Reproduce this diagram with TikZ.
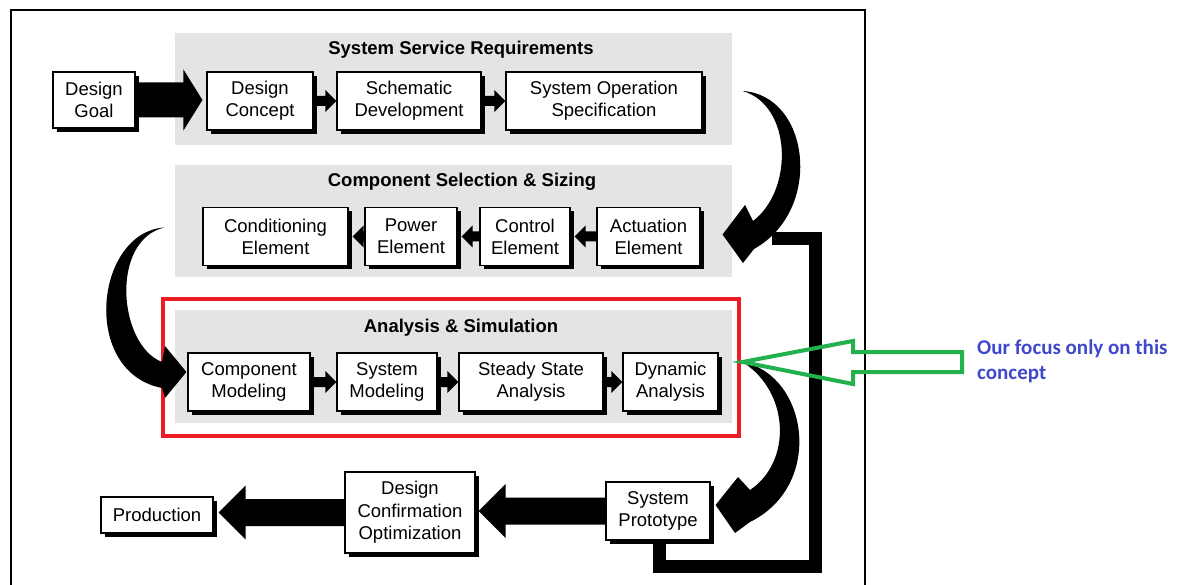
\documentclass[tikz,border=0pt]{standalone}
\usepackage{fontspec}
\setmainfont{Liberation Sans}
\newfontfamily\calibri{Carlito}
\usetikzlibrary{calc,shadows}
\definecolor{panelgray}{HTML}{E4E4E4}
\definecolor{focusred}{HTML}{ED1C24}
\definecolor{focusgreen}{HTML}{22B14C}
\definecolor{focusblue}{HTML}{3F48CC}
% block arrow: #1 start, #2 tip, #3 shaft half height, #4 head half height, #5 signed head length
\newcommand\blockarr[5]{%
  \fill let \p1=#1, \p2=#2 in
    (\x1,{\y1+#3}) -- ({\x2-(#5)},{\y1+#3}) -- ({\x2-(#5)},{\y1+#4}) -- (\x2,\y1)
    -- ({\x2-(#5)},{\y1-#4}) -- ({\x2-(#5)},{\y1-#3}) -- (\x1,{\y1-#3}) -- cycle;}
\tikzset{
  box/.style={draw=black, line width=1.1pt, fill=white, inner sep=0pt, align=center,
    font=\fontsize{18.5}{22}\selectfont,
    drop shadow={fill=black, opacity=1, shadow xshift=4pt, shadow yshift=-4pt}},
  panel/.style={fill=panelgray, draw=none},
  title/.style={font=\fontsize{18.5}{22}\selectfont\bfseries},
  feedback/.style={line width=13pt, line join=miter, draw=black},
}
\begin{document}
\begin{tikzpicture}[x=1pt,y=-1pt]
\useasboundingbox (0,0) rectangle (1186,585);
\begin{scope}
\clip (0,0) rectangle (1186,585);
% outer frame
\draw[line width=2pt] (11,10) rectangle (865,620);
% panels
\fill[panel] (175,33) rectangle (732,145);
\fill[panel] (175,165) rectangle (732,277);
\fill[panel] (175,310) rectangle (732,423);
\node[title] (t1) at (461,49.5) {System Service Requirements};
\node[title] (t2) at (462,181.5) {Component Selection \& Sizing};
\node[title] (t3) at (461,327.5) {Analysis \& Simulation};
% feedback path
\draw[feedback] (659,540) -- (659,566) -- (815,566) -- (815,238.5) -- (772,238.5);
% red focus box
\draw[focusred, line width=4pt] (163,299.5) rectangle (739,436);
% boxes
\node[box, minimum width=82pt, minimum height=56pt] (goal) at (94,100) {Design\\Goal};
\node[box, minimum width=106pt, minimum height=58pt] (concept) at (260,101) {Design\\Concept};
\node[box, minimum width=144pt, minimum height=58pt] (schem) at (409,101) {Schematic\\Development};
\node[box, minimum width=196pt, minimum height=58pt] (sos) at (604,101) {System Operation\\Specification};
\node[box, minimum width=145pt, minimum height=58pt] (cond) at (275.5,236.5) {Conditioning\\Element};
\node[box, minimum width=92pt, minimum height=58pt] (power) at (411,236.5) {Power\\Element};
\node[box, minimum width=90pt, minimum height=58pt] (control) at (525,236.5) {Control\\Element};
\node[box, minimum width=103pt, minimum height=58pt] (actu) at (648.5,236.5) {Actuation\\Element};
\node[box, minimum width=122pt, minimum height=58pt] (compmod) at (249,382) {Component\\Modeling};
\node[box, minimum width=100pt, minimum height=58pt] (sysmod) at (387,382) {System\\Modeling};
\node[box, minimum width=144pt, minimum height=58pt] (steady) at (531,382) {Steady State\\Analysis};
\node[box, minimum width=95pt, minimum height=58pt] (dyn) at (670.5,382) {Dynamic\\Analysis};
\node[box, minimum width=112pt, minimum height=36pt] (prod) at (157,515) {Production};
\node[box, minimum width=130pt, minimum height=81pt, font=\fontsize{18.5}{22.5}\selectfont] (dco) at (410,512.5) {Design\\Confirmation\\Optimization};
\node[box, minimum width=104pt, minimum height=58pt] (proto) at (658,511) {System\\Prototype};
% small arrows
\blockarr{($(concept.east)+(3,0)$)}{(schem.west)}{5pt}{11pt}{11pt}
\blockarr{($(schem.east)+(3,0)$)}{(sos.west)}{5pt}{11pt}{11pt}
\blockarr{(actu.west)}{($(control.east)+(4,0)$)}{5pt}{11pt}{-11pt}
\blockarr{(control.west)}{($(power.east)+(4,0)$)}{5pt}{11pt}{-11pt}
\blockarr{(power.west)}{($(cond.east)+(4,0)$)}{5pt}{11pt}{-11pt}
\blockarr{($(compmod.east)+(3,0)$)}{(sysmod.west)}{5pt}{11pt}{11pt}
\blockarr{($(sysmod.east)+(3,0)$)}{(steady.west)}{5pt}{11pt}{11pt}
\blockarr{($(steady.east)+(3,0)$)}{(dyn.west)}{5pt}{11pt}{11pt}
% big straight arrows
\blockarr{($(goal.east)+(3,0)$)}{($(concept.west)+(-4,0)$)}{17.5pt}{30.5pt}{19pt}
\blockarr{(proto.west)}{($(dco.east)+(3,0)$)}{13.5pt}{27pt}{-27pt}
\blockarr{(dco.west)}{($(prod.east)+(5,0)$)}{13.5pt}{27pt}{-27pt}
% curved arrow: SOS -> Actuation
\coordinate (c1s) at ($(sos.east)+(40,-10)$);
\coordinate (c1t) at ($(actu.east)+(22,-2)$);
\fill (c1s) .. controls (810,95) and (824,210) .. (754,249)
  -- (743,263) -- (c1t) -- (745,205) -- (753,221)
  .. controls (794,190) and (792,105) .. (c1s) -- cycle;
% curved arrow: Conditioning -> Component Modeling
\coordinate (c2s) at ($(cond.west)+(-38,-9)$);
\coordinate (c2t) at ($(compmod.west)+(-1,-10)$);
\fill (c2s) .. controls (95,232) and (80,372) .. (162,388)
  -- (165,398) -- (c2t) -- (165,346) -- (162,362)
  .. controls (118,345) and (110,240) .. (c2s) -- cycle;
% curved arrow: Dynamic -> System Prototype
\coordinate (c3s) at ($(dyn.east)+(24,-20)$);
\coordinate (c3t) at ($(proto.east)+(5,-6)$);
\fill (c3s) .. controls (808,375) and (825,485) .. (750,522)
  -- (735,533) -- (c3t) -- (738,477) -- (750,490)
  .. controls (792,462) and (790,392) .. (c3s) -- cycle;
% green focus arrow
\coordinate (gtip) at ($(dyn.east)+(24,-20)$);
\draw[focusgreen, line width=4pt, line join=miter]
  (gtip) -- (853,341) -- (853,352) -- (962,352) -- (962,372) -- (853,372) -- (853,384) -- cycle;
\node[anchor=west, align=left, text=focusblue, inner sep=0pt,
  font=\calibri\bfseries\fontsize{21}{25}\selectfont] (focus) at (977,361.5)
  {Our focus only on this\\concept};
\end{scope}
\end{tikzpicture}
\end{document}
